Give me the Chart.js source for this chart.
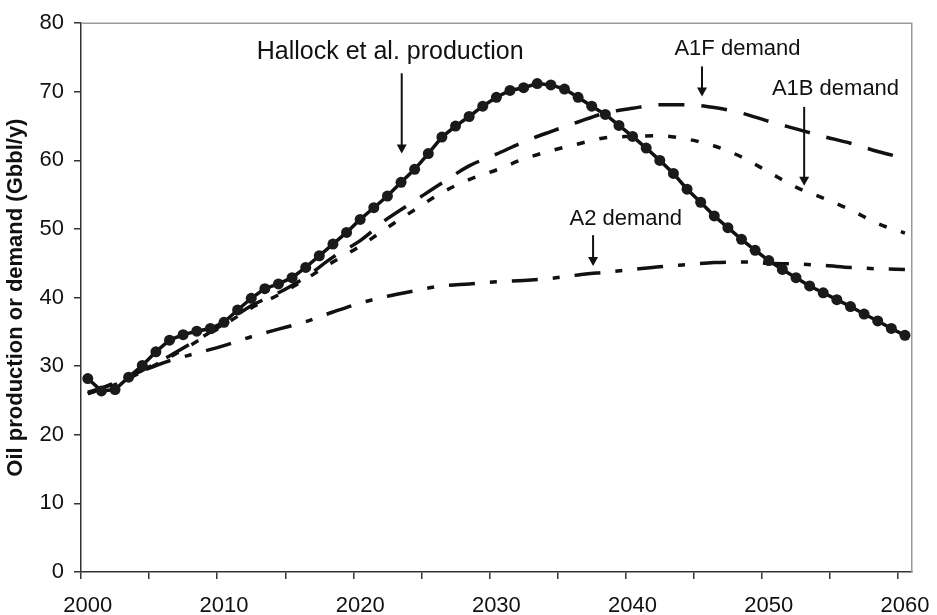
<!DOCTYPE html>
<html><head><meta charset="utf-8">
<script src="https://cdn.jsdelivr.net/npm/chart.js@4.4.1/dist/chart.umd.min.js"></script>
<style>html,body{margin:0;padding:0;background:#fff;}#wrap{width:937px;height:615px;}</style>
</head><body><div id="wrap"><canvas id="c" width="937" height="615"></canvas></div>
<script>
// ---- data ----
const productionYears = [2000,2001,2002,2003,2004,2005,2006,2007,2008,2009,2010,2011,2012,2013,2014,2015,2016,2017,2018,2019,2020,2021,2022,2023,2024,2025,2026,2027,2028,2029,2030,2031,2032,2033,2034,2035,2036,2037,2038,2039,2040,2041,2042,2043,2044,2045,2046,2047,2048,2049,2050,2051,2052,2053,2054,2055,2056,2057,2058,2059,2060];
const productionValues = [28.2,26.4,26.6,28.4,30.1,32.1,33.8,34.6,35.1,35.5,36.4,38.2,39.9,41.3,42.0,42.9,44.4,46.1,47.8,49.5,51.4,53.1,54.8,56.8,58.7,61.0,63.4,65.0,66.4,67.9,69.2,70.2,70.6,71.2,71.0,70.4,69.2,67.9,66.7,65.1,63.5,61.8,60.0,58.1,55.8,53.9,51.9,50.2,48.5,46.9,45.4,44.1,42.9,41.7,40.7,39.7,38.7,37.6,36.6,35.5,34.5];
const demandYears = [2000,2002,2004,2006,2008,2010,2012,2014,2016,2018,2020,2022,2024,2026,2028,2030,2032,2034,2036,2038,2040,2042,2044,2046,2048,2050,2052,2054,2056,2058,2060];
const a1fDemand = [26.2,27.5,29.4,31.5,33.8,36.2,38.8,40.7,43.0,45.9,48.3,51.5,54.1,56.7,59.2,60.9,62.7,64.2,65.6,66.9,67.6,68.1,68.1,67.7,66.9,65.7,64.6,63.5,62.5,61.3,60.3];
const a1bDemand = [26.0,27.3,29.2,31.3,33.6,36.0,38.5,40.4,42.7,45.2,47.5,50.2,52.8,55.3,57.2,58.6,60.2,61.4,62.4,63.3,63.5,63.6,63.1,62.1,60.5,58.3,56.1,54.5,52.8,50.8,49.4];
const a2Demand = [26.0,27.6,29.3,30.8,31.9,33.0,34.3,35.4,36.5,37.9,39.2,40.2,41.0,41.7,42.0,42.3,42.5,42.8,43.3,43.7,44.1,44.5,44.8,45.1,45.2,45.0,44.9,44.7,44.4,44.2,44.1];
const xTickMarks = [1999.5,2004.5,2009.5,2014.5,2019.5,2024.5,2029.5,2034.5,2039.5,2044.5,2049.5,2054.5,2059.5];
const xTickLabels = [2000,2010,2020,2030,2040,2050,2060];
const yTickValues = [0,10,20,30,40,50,60,70,80];
const yTitle = 'Oil production or demand (Gbbl/y)';
const annotations = [
  {text:'Hallock et al. production', size:25, tx:2022.2, ty:74.8, ax:2023.05, ay1:72.7, ay2:61.0},
  {text:'A1F demand', size:22, tx:2047.7, ty:75.3, ax:2045.1, ay1:73.7, ay2:69.3},
  {text:'A1B demand', size:22, tx:2054.9, ty:69.55, ax:2052.6, ay1:67.8, ay2:56.3},
  {text:'A2 demand', size:22, tx:2039.5, ty:50.65, ax:2037.1, ay1:49.1, ay2:44.6}
];

const FONT = '"Liberation Sans", Arial, sans-serif';
const INK = '#111';

const framePlugin = {
  id: 'frame',
  beforeDatasetsDraw(chart) {
    const {ctx, chartArea: a} = chart;
    ctx.save();
    ctx.strokeStyle = '#9a9a9a';
    ctx.lineWidth = 1.5;
    ctx.beginPath();
    ctx.moveTo(a.left, a.top);
    ctx.lineTo(a.right, a.top);
    ctx.lineTo(a.right, a.bottom);
    ctx.stroke();
    ctx.restore();
  }
};

const annotationPlugin = {
  id: 'notes',
  afterDatasetsDraw(chart) {
    const {ctx, scales: {x, y}} = chart;
    ctx.save();
    annotations.forEach(n => {
      ctx.fillStyle = INK;
      ctx.font = n.size + 'px ' + FONT;
      ctx.textAlign = 'center';
      ctx.textBaseline = 'alphabetic';
      ctx.fillText(n.text, x.getPixelForValue(n.tx), y.getPixelForValue(n.ty));
      const px = x.getPixelForValue(n.ax);
      const y1 = y.getPixelForValue(n.ay1);
      const y2 = y.getPixelForValue(n.ay2);
      ctx.strokeStyle = INK;
      ctx.lineWidth = 2;
      ctx.beginPath();
      ctx.moveTo(px, y1);
      ctx.lineTo(px, y2 - 6);
      ctx.stroke();
      ctx.beginPath();
      ctx.moveTo(px - 5, y2 - 9);
      ctx.lineTo(px + 5, y2 - 9);
      ctx.lineTo(px, y2);
      ctx.closePath();
      ctx.fill();
    });
    ctx.restore();
  }
};

const toPts = (xs, ys) => xs.map((v, i) => ({x: v, y: ys[i]}));

new Chart(document.getElementById('c'), {
  type: 'line',
  data: {
    datasets: [
      {label:'Hallock et al. production', data: toPts(productionYears, productionValues),
        borderColor: INK, borderWidth: 3.5, pointRadius: 5.5, pointBackgroundColor: '#1a1a1a',
        pointBorderWidth: 0, tension: 0},
      {label:'A1F demand', data: toPts(demandYears, a1fDemand), borderColor: INK, borderWidth: 3.5,
        borderDash:[26,17], pointRadius:0, cubicInterpolationMode:'monotone', borderCapStyle:'butt'},
      {label:'A1B demand', data: toPts(demandYears, a1bDemand), borderColor: INK, borderWidth: 3.5,
        borderDash:[8,15], pointRadius:0, cubicInterpolationMode:'monotone', borderCapStyle:'butt'},
      {label:'A2 demand', data: toPts(demandYears, a2Demand), borderColor: INK, borderWidth: 3.5,
        borderDash:[26,15,7,15], pointRadius:0, cubicInterpolationMode:'monotone', borderCapStyle:'butt'}
    ]
  },
  options: {
    responsive: false,
    animation: false,
    devicePixelRatio: 1,
    layout: {padding: {top: 17, right: 24, left: 0, bottom: 0}},
    plugins: {legend: {display: false}, tooltip: {enabled: false}},
    scales: {
      x: {
        type: 'linear', min: 1999.5, max: 2060.5,
        afterBuildTicks: s => { s.ticks = xTickMarks.map(v => ({value: v})); },
        afterFit: s => { s.height = 43; },
        grid: {drawOnChartArea: false, drawTicks: true, tickLength: 7, color: '#333', lineWidth: 1.5},
        border: {display: true, color: '#333', width: 1.5},
        ticks: {
          autoSkip: false, maxRotation: 0, padding: 14, labelOffset: 6.8, color: INK,
          font: {family: FONT, size: 22},
          callback: v => xTickLabels.includes(v + 0.5) ? String(v + 0.5) : ''
        }
      },
      y: {
        min: 0, max: 80,
        afterBuildTicks: s => { s.ticks = yTickValues.map(v => ({value: v})); },
        afterFit: s => { s.width = 81; },
        grid: {drawOnChartArea: false, drawTicks: true, tickLength: 7, color: '#333', lineWidth: 1.5},
        border: {display: true, color: '#333', width: 1.5},
        ticks: {padding: 10, color: INK, font: {family: FONT, size: 22}},
        title: {display: true, text: yTitle, color: INK, padding: {top: 3, bottom: 0},
          font: {family: FONT, size: 22, weight: 'bold'}}
      }
    }
  },
  plugins: [framePlugin, annotationPlugin]
});
</script></body></html>
